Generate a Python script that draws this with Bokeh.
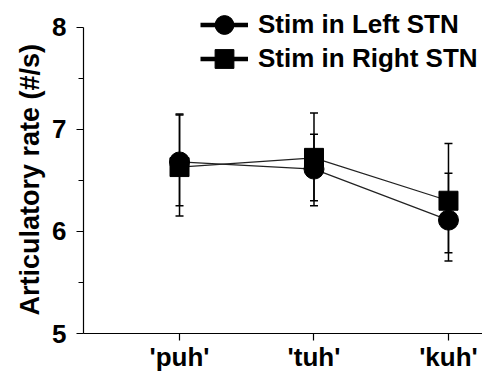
from bokeh.plotting import figure
from bokeh.models import (Whisker, TeeHead, FixedTicker, Legend, LegendItem,
                          ColumnDataSource, Range1d, Title)
from bokeh.embed import file_html
from bokeh.resources import INLINE

# ---- data ----
syllables = ["'puh'", "'tuh'", "'kuh'"]
x_pos = [1, 2, 3]

left_mean = [6.68, 6.61, 6.11]
left_upper = [7.15, 6.95, 6.57]
left_lower = [6.25, 6.30, 5.71]

right_mean = [6.63, 6.72, 6.30]
right_upper = [7.14, 7.16, 6.86]
right_lower = [6.15, 6.25, 5.79]

series_names = ["Stim in Left STN", "Stim in Right STN"]
y_label = "Articulatory rate (#/s)"

FONT = "Liberation Sans"
FS = "26px"

p = figure(width=482, height=374, output_backend="svg", toolbar_location=None,
           x_range=Range1d(0.286, 3.253), y_range=Range1d(5, 8.261),
           min_border_left=83, min_border_right=0, min_border_top=0,
           min_border_bottom=41)
p.outline_line_color = None
p.xgrid.visible = False
p.ygrid.visible = False
p.background_fill_color = "white"
p.border_fill_color = "white"

left_src = ColumnDataSource(dict(x=x_pos, y=left_mean, up=left_upper, lo=left_lower))
right_src = ColumnDataSource(dict(x=x_pos, y=right_mean, up=right_upper, lo=right_lower))

line_col = "#222222"
p.line("x", "y", source=left_src, line_color=line_col, line_width=1.2)
p.line("x", "y", source=right_src, line_color=line_col, line_width=1.2)

for src in (left_src, right_src):
    w = Whisker(base="x", upper="up", lower="lo", source=src,
                line_color="black", line_width=1.5,
                upper_head=TeeHead(size=8, line_width=1.5, line_color="black"),
                lower_head=TeeHead(size=8, line_width=1.5, line_color="black"))
    p.add_layout(w)

p.scatter("x", "y", source=left_src, marker="circle", size=20,
          fill_color="black", line_color="black")
p.scatter("x", "y", source=right_src, marker="square", size=19,
          fill_color="black", line_color="black")

# legend-only (hidden) renderers for the thick legend keys
l1 = p.line("x", "y", source=left_src, line_color="black", line_width=4.5, visible=False)
s1 = p.scatter("x", "y", source=left_src, marker="circle", size=18,
               fill_color="black", line_color="black", visible=False)
l2 = p.line("x", "y", source=right_src, line_color="black", line_width=4.5, visible=False)
s2 = p.scatter("x", "y", source=right_src, marker="square", size=18,
               fill_color="black", line_color="black", visible=False)

common = dict(padding=0, spacing=0, margin=0, glyph_width=48, glyph_height=47,
              label_standoff=10, label_text_font=FONT, label_text_font_size=FS,
              label_text_font_style="bold", label_text_color="black",
              border_line_color=None, background_fill_alpha=0)
leg1 = Legend(items=[LegendItem(label=series_names[0], renderers=[l1, s1])],
              location=(117, 285), **common)
leg2 = Legend(items=[LegendItem(label=series_names[1], renderers=[l2, s2])],
              location=(117, 251), **common)
p.add_layout(leg1, "center")
p.add_layout(leg2, "center")

# axes
p.xaxis.ticker = FixedTicker(ticks=x_pos)
p.xaxis.major_label_overrides = {x: s for x, s in zip(x_pos, syllables)}
p.yaxis.ticker = FixedTicker(ticks=[5, 6, 7, 8], minor_ticks=[5.5, 6.5, 7.5])
p.yaxis.bounds = (5, 8)

for ax in (p.xaxis[0], p.yaxis[0]):
    ax.axis_line_color = "black"
    ax.axis_line_width = 1.2
    ax.major_tick_line_color = "black"
    ax.major_tick_line_width = 1.2
    ax.major_tick_out = 7
    ax.major_tick_in = 0
    ax.minor_tick_out = 0
    ax.minor_tick_in = 0
    ax.major_label_text_font = FONT
    ax.major_label_text_font_size = FS
    ax.major_label_text_font_style = "bold"
    ax.major_label_text_color = "black"

p.yaxis.minor_tick_out = 5
p.yaxis.minor_tick_line_color = "black"
p.yaxis.minor_tick_line_width = 1.2
p.yaxis.major_label_standoff = 10
p.xaxis.major_label_standoff = 1

ytitle = Title(text=y_label, align="left", offset=18, standoff=10,
               text_font=FONT, text_font_size="27px", text_font_style="bold",
               text_color="black")
p.add_layout(ytitle, "left")

open("out.html", "w").write(file_html(p, INLINE))
